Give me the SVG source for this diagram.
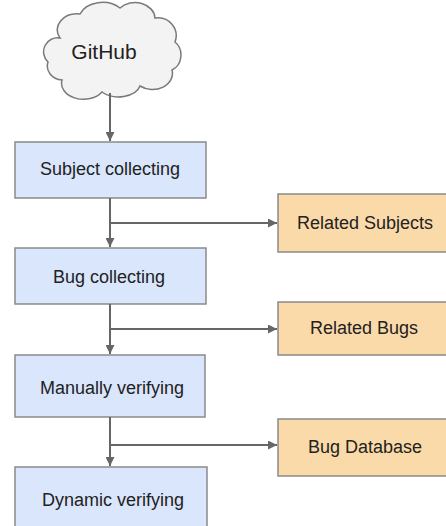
<svg xmlns="http://www.w3.org/2000/svg" width="446" height="526" viewBox="0 0 446 526">
<style>
.step{fill:#d9e6fb;stroke:#8a8a8a;stroke-width:1.5}
.out{fill:#fbdaa9;stroke:#8a8a8a;stroke-width:1.5}
.cloud{fill:#f3f3f3;stroke:#7a7a7a;stroke-width:1.5}
text{font-family:"Liberation Sans",Arial,sans-serif;font-size:18px;fill:#222;text-anchor:middle;dominant-baseline:central}
.conn{stroke:#666;stroke-width:2;fill:none}
</style>
<defs>
<marker id="ah" viewBox="0 0 10 10" refX="10" refY="5" markerWidth="4.5" markerHeight="4.5" orient="auto" markerUnits="strokeWidth">
<path d="M0,0 L10,5 L0,10 z" fill="#666"/>
</marker>
</defs>
<rect width="446" height="526" fill="#fff"/>
<g id="github">
<path class="cloud" d="M60 38 A20 16 0 0 1 80 14 A24 18 0 0 1 120 8 A20 16 0 0 1 155 18 A18 18 0 0 1 175 42 A14 16 0 0 1 172 70 A20 16 0 0 1 140 86 A22 14 0 0 1 102 92 A22 16 0 0 1 62 80 A16 14 0 0 1 48 62 A14 14 0 0 1 60 38 Z"/>
<text x="104" y="51" style="font-size:21px">GitHub</text>
</g>
<g id="subject-collecting">
<rect class="step" x="15" y="142" width="191" height="56"/>
<text x="110" y="169">Subject collecting</text>
</g>
<g id="bug-collecting">
<rect class="step" x="15" y="248" width="191" height="56"/>
<text x="109" y="277">Bug collecting</text>
</g>
<g id="manually-verifying">
<rect class="step" x="15" y="355" width="190" height="62"/>
<text x="112" y="388">Manually verifying</text>
</g>
<g id="dynamic-verifying">
<rect class="step" x="15" y="467" width="192" height="70"/>
<text x="113" y="500">Dynamic verifying</text>
</g>
<g id="related-subjects">
<rect class="out" x="278" y="194" width="175" height="58"/>
<text x="365" y="223">Related Subjects</text>
</g>
<g id="related-bugs">
<rect class="out" x="278" y="302" width="175" height="53"/>
<text x="364" y="328">Related Bugs</text>
</g>
<g id="bug-database">
<rect class="out" x="278" y="419" width="175" height="57"/>
<text x="365" y="447">Bug Database</text>
</g>
<g id="connectors">
<line class="conn" x1="110" y1="93" x2="110" y2="141" marker-end="url(#ah)"/>
<line class="conn" x1="110" y1="198" x2="110" y2="247" marker-end="url(#ah)"/>
<line class="conn" x1="110" y1="223" x2="277" y2="223" marker-end="url(#ah)"/>
<line class="conn" x1="110" y1="304" x2="110" y2="354" marker-end="url(#ah)"/>
<line class="conn" x1="110" y1="329" x2="277" y2="329" marker-end="url(#ah)"/>
<line class="conn" x1="110" y1="417" x2="110" y2="466" marker-end="url(#ah)"/>
<line class="conn" x1="110" y1="445" x2="277" y2="445" marker-end="url(#ah)"/>
</g>
</svg>
